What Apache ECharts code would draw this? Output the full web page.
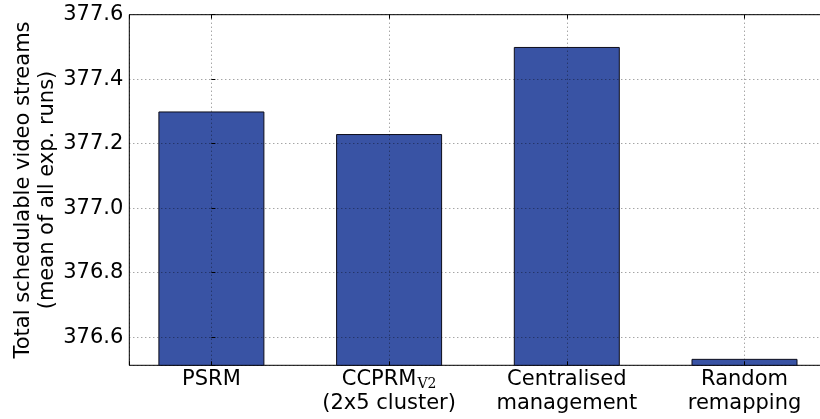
<!DOCTYPE html>
<html>
<head>
<meta charset="utf-8">
<script src="https://cdn.jsdelivr.net/npm/echarts@6/dist/echarts.min.js"></script>
<style>
  html, body { margin: 0; padding: 0; background: #fff; }
  #chart { width: 820px; height: 419px; }
</style>
</head>
<body>
<div id="chart"></div>
<script>
// Mean number of schedulable video streams per management strategy
const categoryLabels = [
  'PSRM',
  '{t|CCPRM}{sub|V2}\n(2x5 cluster)',
  'Centralised\nmanagement',
  'Random\nremapping'
];
const meanStreams = [377.30, 377.23, 377.50, 376.533];
const yTicks = [376.6, 376.8, 377.0, 377.2, 377.4, 377.6];

const FONT = '"DejaVu Sans", sans-serif';
const FS = 21;
const positions = meanStreams.map((v, i) => [i, v]);

const chart = echarts.init(document.getElementById('chart'), null, { renderer: 'canvas' });

// dotted grid, drawn on a layer above the bars
const gridLine = { show: true, lineStyle: { color: 'rgba(0,0,0,0.5)', type: [1, 3], width: 1 } };

chart.setOption({
  animation: false,
  backgroundColor: '#fff',
  grid: {
    left: 129.3, top: 14.7, width: 697.3, bottom: 53.7,
    containLabel: false,
    outerBoundsMode: 'none',
    show: true, borderColor: '#000', borderWidth: 1, backgroundColor: 'transparent'
  },
  xAxis: [{
    type: 'value',
    min: -0.462, max: 3.462,
    minInterval: 1, maxInterval: 1,
    zlevel: 1,
    axisLine: { show: false },
    axisTick: { show: true, inside: true, length: 4, lineStyle: { color: '#000' } },
    splitLine: gridLine,
    axisLabel: {
      margin: 2,
      fontFamily: FONT, fontSize: FS, color: '#000', lineHeight: 24,
      formatter: v => {
        const i = Math.round(v);
        return Math.abs(v - i) < 1e-6 && i >= 0 && i < categoryLabels.length ? categoryLabels[i] : '';
      },
      rich: {
        t: { fontFamily: FONT, fontSize: FS, color: '#000' },
        sub: { fontFamily: '"DejaVu Serif", serif', fontSize: 14, color: '#000', padding: [10, 0, 0, 1] }
      }
    }
  }, {
    type: 'value',
    position: 'top',
    min: -0.462, max: 3.462,
    minInterval: 1, maxInterval: 1,
    zlevel: 1,
    axisLine: { show: false },
    axisTick: { show: true, inside: true, length: 4, lineStyle: { color: '#000' } },
    splitLine: { show: false },
    axisLabel: { show: false }
  }],
  yAxis: {
    type: 'value',
    min: 376.513, max: 377.6,
    minInterval: 0.2, maxInterval: 0.2,
    zlevel: 1,
    name: 'Total schedulable video streams\n(mean of all exp. runs)',
    nameLocation: 'middle',
    nameRotate: 90,
    nameGap: 70,
    nameMoveOverlap: false,
    nameTextStyle: { fontFamily: FONT, fontSize: FS, color: '#000', lineHeight: 24 },
    axisLine: { show: false },
    axisTick: { show: true, inside: true, length: 4, lineStyle: { color: '#000' } },
    splitLine: gridLine,
    axisLabel: {
      margin: 6,
      fontFamily: FONT, fontSize: FS, color: '#000',
      formatter: v => yTicks.some(t => Math.abs(t - v) < 1e-6) ? v.toFixed(1) : ''
    }
  },
  series: [{
    type: 'bar',
    data: positions,
    barWidth: 106,
    itemStyle: { color: '#3953a4', borderColor: '#0d0d1a', borderWidth: 1 }
  }]
});
</script>
</body>
</html>
